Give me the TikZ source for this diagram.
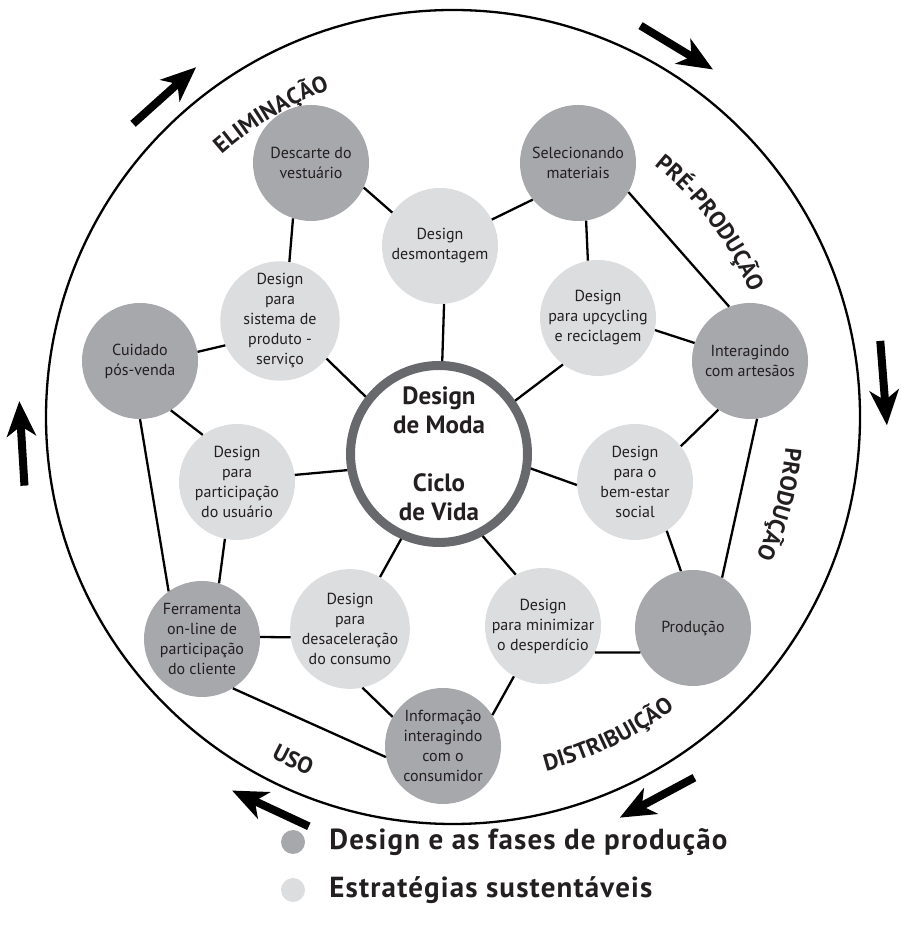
\documentclass[tikz,border=0pt]{standalone}
\usepackage{fontspec}
\setmainfont{PT Sans}
\newfontfamily\legendfont{PT Sans}[LetterSpace=4]
\usepackage{xcolor}
\usetikzlibrary{arrows.meta, positioning, decorations.text}
\definecolor{phasegray}{RGB}{167,168,172}
\definecolor{stratgray}{RGB}{220,221,223}
\definecolor{ringgray}{RGB}{104,105,109}
\definecolor{inkgray}{RGB}{35,31,32}
\newcommand{\phasefont}{\fontsize{23}{23}\selectfont\bfseries\color{inkgray}}

\begin{document}
\begin{tikzpicture}[
    x=1pt, y=1pt,
    phase/.style={circle, fill=phasegray, minimum size=116pt, inner sep=0pt, align=center, text=inkgray, font=\fontsize{16}{20}\selectfont},
    strategy/.style={phase, fill=stratgray},
    hub/.style={circle, draw=ringgray, line width=9pt, fill=white, minimum size=177pt, inner sep=0pt, align=center, text=inkgray, font=\fontsize{25}{29}\selectfont\bfseries},
    link/.style={line width=2.3pt, draw=black},
    flow/.style={line width=8pt, -{Stealth[length=35pt, width=29pt, inset=10pt]}},
    legdot/.style={circle, minimum size=24pt, inner sep=0pt},
    legtext/.style={font=\legendfont\fontsize{29}{32}\selectfont\bfseries, text=inkgray, inner sep=0pt, anchor=west}
]
\useasboundingbox (0,0) rectangle (900,925);

% Outer cycle
\coordinate (cc) at (453,508);
\draw[line width=2.3pt] (cc) circle[radius=407];
\foreach \a in {58.8, 4.5, -61.8, -115, 183.5, 131.9}
    \draw[flow] ([shift={({\a+5.6}:434)}]cc) -- ([shift={({\a-5.6}:434)}]cc);

% Phase names
\path[decorate, decoration={text along path, text align=center, text={|\phasefont|ELIMINAÇÃO}}]
    ([shift={(151:350)}]cc) arc[start angle=151, end angle=91, radius=350];
\path[decorate, decoration={text along path, text align=center, text={|\phasefont|PRÉ-PRODUÇÃO}}]
    ([shift={(67:322)}]cc) arc[start angle=67, end angle=7, radius=322];
\path[decorate, decoration={text along path, text align=center, text={|\phasefont|PRODUÇÃO}}]
    ([shift={(15:334)}]cc) arc[start angle=15, end angle=-45, radius=334];
\path[decorate, decoration={text along path, text align=center, text={|\phasefont|DISTRIBUIÇÃO}}]
    ([shift={(-94:366)}]cc) arc[start angle=-94, end angle=-34, radius=366];
\path[decorate, decoration={text along path, text align=center, text={|\phasefont|USO}}]
    ([shift={(-145:386)}]cc) arc[start angle=-145, end angle=-85, radius=386];

% Centre
\node[hub] (hub) at (439,471) {Design\\de Moda\\[29pt]Ciclo\\de Vida};

% Production phases
\node[phase] (desc) at (311,762) {Descarte do\\vestuário};
\node[phase] (sel) at (578,762) {Selecionando\\materiais};
\node[phase] (inter) at (750,564) {Interagindo\\com artesãos};
\node[phase] (prod) at (693,297) {Produção};
\node[phase] (info) at (443,179) {Informação\\interagindo\\com o\\consumidor};
\node[phase] (ferr) at (202,286) {Ferramenta\\on-line de\\participação\\do cliente};
\node[phase] (cuid) at (140,564) {Cuidado\\pós-venda};

% Sustainable strategies
\node[strategy] (desm) at (440,679) {Design\\desmontagem};
\node[strategy] (upcy) at (598,607) {Design\\para upcycling\\e reciclagem};
\node[strategy] (bem) at (635,443) {Design\\para o\\bem-estar\\social};
\node[strategy] (mini) at (543,299) {Design\\para minimizar\\o desperdício};
\node[strategy] (desa) at (350,296) {Design\\para\\desaceleração\\do consumo};
\node[strategy] (part) at (237,443) {Design\\para\\participação\\do usuário};
\node[strategy] (sist) at (280,604) {Design\\para\\sistema de\\produto -\\serviço};

% Spokes
\draw[link] (hub.88) -- (desm.-86);
\draw[link] (hub.35) -- (upcy.-127);
\draw[link] (hub.-9) -- (bem.183);
\draw[link] (hub.-62) -- (mini.118);
\draw[link] (hub.-114) -- (desa.60);
\draw[link] (hub.190) -- (part.7);
\draw[link] (hub.142) -- (sist.-39);

% Web
\draw[link] (desc.-108) -- (sist.81);
\draw[link] (desc.-25) -- (desm.145);
\draw[link] (sel.219) -- (desm.27);
\draw[link] (sel.-82) -- (upcy.100);
\draw[link] (sel.-30) -- (inter.111);
\draw[link] (inter.162) -- (upcy.-12);
\draw[link] (inter.-123) -- (bem.38);
\draw[link] (inter.-83) -- (prod.60);
\draw[link] (bem.-57) -- (prod.102);
\draw[link] (prod.205) -- (mini.-27);
\draw[link] (info.32) -- (mini.-120);
\draw[link] (info.150) -- (desa.-78);
\draw[link] (info.191) -- (ferr.-58);
\draw[link] (ferr.2) -- (desa.188);
\draw[link] (ferr.73) -- (part.-102);
\draw[link] (ferr.125) -- (cuid.-90);
\draw[link] (cuid.-58) -- (part.126);
\draw[link] (cuid.9) -- (sist.204);

% Legend
\node[legdot, fill=phasegray] (keyphase) at (293,83) {};
\node[legtext, right=24pt of keyphase] (keyphasetext) {Design e as fases de produção};
\node[legdot, fill=stratgray] (keystrat) at (293,35) {};
\node[legtext, right=24pt of keystrat] (keystrattext) {Estratégias sustentáveis};
\end{tikzpicture}
\end{document}
